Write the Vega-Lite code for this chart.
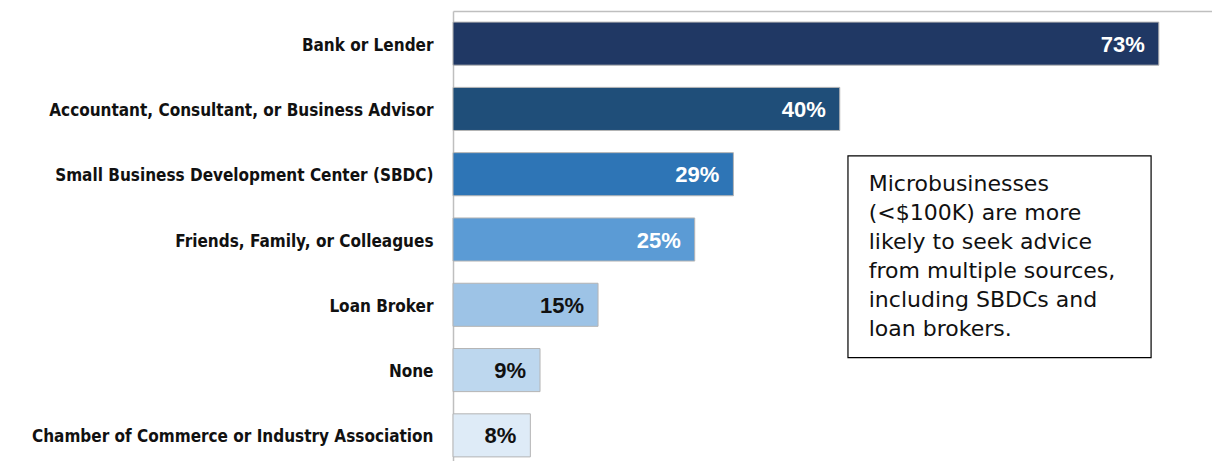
{
  "$schema": "https://vega.github.io/schema/vega-lite/v6.json",
  "width": 759,
  "height": 457,
  "autosize": {"type": "none"},
  "padding": {"left": 453, "top": 11, "right": 0, "bottom": 0},
  "background": "white",
  "config": {"view": {"stroke": null}},
  "datasets": {
    "bars": [
      {"source": "Bank or Lender", "pct": 73},
      {"source": "Accountant, Consultant, or Business Advisor", "pct": 40},
      {"source": "Small Business Development Center (SBDC)", "pct": 29},
      {"source": "Friends, Family, or Colleagues", "pct": 25},
      {"source": "Loan Broker", "pct": 15},
      {"source": "None", "pct": 9},
      {"source": "Chamber of Commerce or Industry Association", "pct": 8}
    ],
    "note": [
      {"x0": 40.85, "x1": 72.2, "y0": 2.22, "y1": 5.31, "tx": 43.0, "ty": 2.5,
       "label": "Microbusinesses\n(<$100K) are more\nlikely to seek advice\nfrom multiple sources,\nincluding SBDCs and\nloan brokers."}
    ]
  },
  "layer": [
    {
      "data": {"name": "bars"},
      "transform": [{"calculate": "datum.pct + '%'", "as": "lab"}],
      "layer": [
        {
          "mark": {"type": "bar", "stroke": "#b4b4b4", "strokeWidth": 1},
          "encoding": {
            "y": {
              "field": "source", "type": "nominal", "sort": null,
              "scale": {"paddingInner": 0.34, "paddingOuter": 0.17},
              "axis": {
                "title": null, "ticks": false, "domainColor": "#bfbfbf", "domainWidth": 1.5,
                "labelFont": "DejaVu Sans Condensed", "labelFontWeight": "bold",
                "labelFontSize": 17, "labelColor": "#111111", "labelPadding": 20,
                "labelLimit": 500, "labelOffset": 2
              }
            },
            "x": {
              "field": "pct", "type": "quantitative",
              "scale": {"domain": [0, 78.5], "nice": false, "zero": true},
              "axis": {
                "orient": "top", "title": null, "labels": false, "ticks": false,
                "grid": false, "domainColor": "#bfbfbf", "domainWidth": 1.5
              }
            },
            "color": {
              "field": "source", "type": "nominal", "legend": null,
              "scale": {
                "domain": ["Bank or Lender", "Accountant, Consultant, or Business Advisor", "Small Business Development Center (SBDC)", "Friends, Family, or Colleagues", "Loan Broker", "None", "Chamber of Commerce or Industry Association"],
                "range": ["#203864", "#1f4e79", "#2e75b6", "#5b9bd5", "#9dc3e6", "#bdd7ee", "#deebf7"]
              }
            }
          }
        },
        {
          "mark": {"type": "text", "align": "right", "baseline": "middle", "dx": -14, "dy": 1,
                   "font": "Liberation Sans", "fontWeight": "bold", "fontSize": 22},
          "encoding": {
            "y": {"field": "source", "type": "nominal", "sort": null},
            "x": {"field": "pct", "type": "quantitative"},
            "text": {"field": "lab", "type": "nominal"},
            "color": {
              "condition": {"test": "datum.pct >= 20", "value": "white"},
              "value": "#111111"
            }
          }
        }
      ]
    },
    {
      "data": {"name": "note"},
      "layer": [
        {
          "mark": {"type": "rect", "fill": "white", "stroke": "black", "strokeWidth": 1.2},
          "encoding": {
            "x": {"field": "x0", "type": "quantitative"},
            "x2": {"field": "x1"},
            "y": {"field": "y0", "type": "quantitative", "scale": {"domain": [0, 7], "reverse": true, "nice": false, "zero": false}, "axis": null},
            "y2": {"field": "y1"}
          }
        },
        {
          "mark": {"type": "text", "align": "left", "baseline": "top", "lineBreak": "\n",
                   "lineHeight": 29, "font": "DejaVu Sans", "fontSize": 22, "color": "#111111"},
          "encoding": {
            "x": {"field": "tx", "type": "quantitative"},
            "y": {"field": "ty", "type": "quantitative", "scale": {"domain": [0, 7], "reverse": true, "nice": false, "zero": false}, "axis": null},
            "text": {"field": "label"}
          }
        }
      ]
    }
  ],
  "resolve": {"scale": {"y": "independent"}, "axis": {"y": "independent"}}
}
